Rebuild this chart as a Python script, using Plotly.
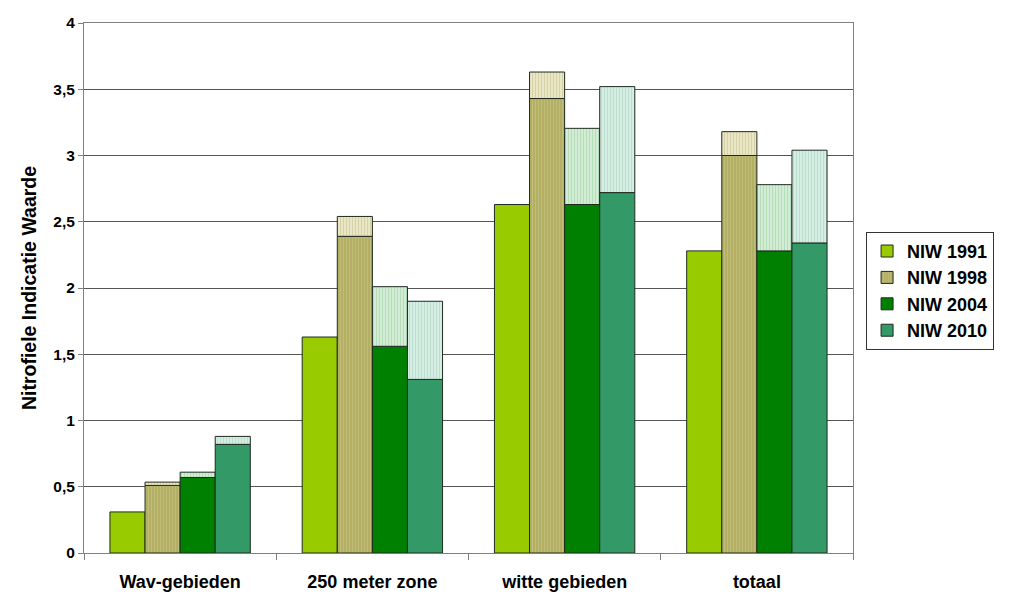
import plotly.graph_objects as go

categories = ["Wav-gebieden", "250 meter zone", "witte gebieden", "totaal"]
series_names = ["NIW 1991", "NIW 1998", "NIW 2004", "NIW 2010"]

# main (dark) values
niw_1991 = [0.31, 1.63, 2.63, 2.28]
niw_1998 = [0.51, 2.39, 3.43, 3.00]
niw_2004 = [0.57, 1.56, 2.63, 2.28]
niw_2010 = [0.82, 1.31, 2.72, 2.34]

# upper values (light top segments)
niw_1998_top = [0.535, 2.54, 3.63, 3.18]
niw_2004_top = [0.61, 2.01, 3.205, 2.78]
niw_2010_top = [0.88, 1.90, 3.52, 3.04]

y_tick_vals = [0, 0.5, 1, 1.5, 2, 2.5, 3, 3.5, 4]
y_tick_text = ["0", "0,5", "1", "1,5", "2", "2,5", "3", "3,5", "4"]

main_colors = ["#99CC00", "#B3AF64", "#008000", "#339966"]
main_fg = [None, "#C2BE7C", None, None]
top_bg = [None, "#E9E6C6", "#D3ECD5", "#D6EDE4"]
top_fg = [None, "#D6D2A6", "#B4DDB8", "#BADFCF"]

mains = [niw_1991, niw_1998, niw_2004, niw_2010]
tops = [None, niw_1998_top, niw_2004_top, niw_2010_top]

FONT = "Liberation Sans, Arial, sans-serif"
line = dict(color="#1E2A1E", width=1)

fig = go.Figure()
for i, name in enumerate(series_names):
    marker = dict(color=main_colors[i], line=line)
    if main_fg[i]:
        marker["pattern"] = dict(shape="|", fgcolor=main_fg[i], bgcolor=main_colors[i],
                                 size=3, solidity=0.3, fillmode="replace")
    fig.add_trace(go.Bar(
        x=categories, y=mains[i], name="<b>%s</b>" % name, offsetgroup=str(i),
        marker=marker, legendgroup=name, hoverinfo="y",
    ))
    if tops[i] is not None:
        diff = [t - m for t, m in zip(tops[i], mains[i])]
        fig.add_trace(go.Bar(
            x=categories, y=diff, base=mains[i], name=name + " top",
            offsetgroup=str(i), showlegend=False, legendgroup=name,
            marker=dict(color=top_bg[i], line=line,
                        pattern=dict(shape="|", fgcolor=top_fg[i], bgcolor=top_bg[i],
                                     size=3, solidity=0.35, fillmode="replace")),
            hoverinfo="y",
        ))

fig.update_layout(
    width=1024, height=614,
    margin=dict(l=76, r=179, t=15, b=69, autoexpand=False),
    paper_bgcolor="white", plot_bgcolor="white",
    barmode="group", bargap=0.27, bargroupgap=0,
    separators=",.",
    font=dict(family=FONT, size=14, color="black"),
    showlegend=True,
    legend=dict(
        x=1.017, y=0.606, xanchor="left", yanchor="top",
        bordercolor="#333333", borderwidth=1, bgcolor="white",
        font=dict(family=FONT, size=18, color="black"),
        itemwidth=30, tracegroupgap=0,
    ),
    xaxis=dict(
        type="category", tickson="boundaries", ticks="outside", ticklen=6,
        tickcolor="#808080", showline=True, linecolor="#808080", linewidth=1,
        mirror=True, showgrid=False, automargin=False, ticklabelstandoff=12,
        tickvals=categories, ticktext=["<b>%s</b>" % c for c in categories],
        tickfont=dict(family=FONT, size=18, color="black"),
    ),
    yaxis=dict(
        range=[0, 4], tickvals=y_tick_vals,
        ticktext=["<b>%s</b>" % t for t in y_tick_text],
        ticks="outside", ticklen=5, tickcolor="#808080",
        showline=True, linecolor="#808080", linewidth=1, mirror=True,
        showgrid=True, gridcolor="#555555", gridwidth=1, automargin=False,
        tickfont=dict(family=FONT, size=15.5, color="black"),
        title=dict(text="<b>Nitrofiele Indicatie Waarde</b>",
                   font=dict(family=FONT, size=19.5, color="black"), standoff=11),
        zeroline=False,
    ),
)

fig.write_html("out.html")
